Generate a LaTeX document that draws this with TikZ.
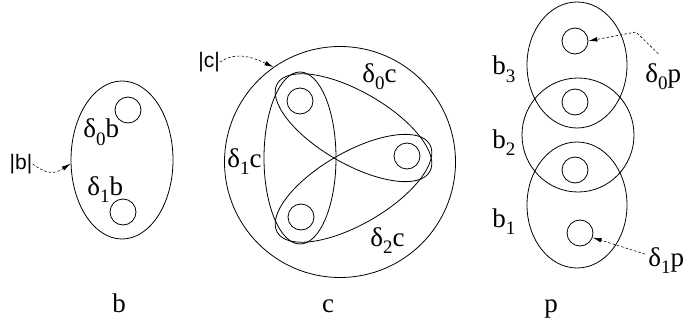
\documentclass[tikz,border=0pt]{standalone}
\usepackage{fontspec}
\setmainfont{Liberation Serif}
\newfontfamily\labsans{Liberation Sans}
\usetikzlibrary{shapes.geometric,arrows.meta}
\newcommand{\sbs}[1]{\raisebox{-7pt}{\fontsize{19}{19}\selectfont #1}}
\begin{document}
\begin{tikzpicture}[x=1pt,y=-1pt,line width=0.8pt,
  hole/.style={draw,circle,minimum size=26pt,inner sep=0pt},
  blob/.style={draw,ellipse,inner sep=0pt},
  lab/.style={font=\rmfamily\fontsize{27}{27}\selectfont,inner sep=0pt,anchor=base west},
  nm/.style={font=\rmfamily\fontsize{27}{27}\selectfont,inner sep=0pt,anchor=base},
  absl/.style={font=\labsans\fontsize{21}{21}\selectfont,inner sep=0pt},
  ptr/.style={line width=0.6pt,dash pattern=on 2.5pt off 2pt,-{Latex[length=9pt,width=4.5pt]}}]
\useasboundingbox (0,0) rectangle (686,321);

% ---------- b ----------
\node[blob,minimum width=102pt,minimum height=158pt] (bE) at (122,160) {};
\node[hole] (bt) at (128,110) {};
\node[hole] (bb) at (123,212) {};
\node[lab] (d0b) at (83,138) {δ\sbs{0}b};
\node[lab] (d1b) at (87,195) {δ\sbs{1}b};
\node[absl] (lb) at (21,164) {|b|};
\draw[ptr] (lb.east) .. controls (44,172) and (52,176) .. (bE.184);
\node[nm] (nb) at (119,312) {b};

% ---------- c ----------
\node[draw,circle,minimum size=231pt,inner sep=0pt] (C) at (340,162) {};
\node[hole] (ct) at (300,101) {};
\node[hole] (cr) at (407,156) {};
\node[hole] (cb) at (301,217) {};
\draw (300,158) ellipse [x radius=36pt, y radius=86pt];
\draw[rotate around={-30:(353.5,127.7)}] (353.5,127.7) ellipse [x radius=88pt, y radius=36pt];
\draw[rotate around={30:(353.5,188.3)}] (353.5,188.3) ellipse [x radius=88pt, y radius=36pt];
\node[lab] (d0c) at (362,82) {δ\sbs{0}c};
\node[lab] (d1c) at (227,167) {δ\sbs{1}c};
\node[lab] (d2c) at (370,246) {δ\sbs{2}c};
\node[absl] (lc) at (209,62) {|c|};
\draw[ptr] (lc.east) .. controls (235,52) and (250,56) .. (C.125);
\node[nm] (nc) at (328,312) {c};

% ---------- p ----------
\node[blob,minimum width=100pt,minimum height=126pt] (p3) at (577,65) {};
\node[blob,minimum width=112pt,minimum height=114pt] (p2) at (578,135) {};
\node[blob,minimum width=100pt,minimum height=126pt] (p1) at (577,205) {};
\node[hole] (pt1) at (575,41) {};
\node[hole] (pt2) at (575,102) {};
\node[hole] (pt3) at (575,170) {};
\node[hole] (pt4) at (580,233) {};
\node[lab] (lb3) at (492,75) {b\sbs{3}};
\node[lab] (lb2) at (492,148) {b\sbs{2}};
\node[lab] (lb1) at (492,227) {b\sbs{1}};
\node[lab] (d0p) at (645,83) {δ\sbs{0}p};
\node[lab] (d1p) at (648,266) {δ\sbs{1}p};
\draw[ptr] ([shift={(-5,-10)}]d0p.north) -- (636,32) -- (pt1.east);
\draw[ptr] ([shift={(-3,-6)}]d1p.west) -- (pt4.-20);
\node[nm] (np) at (551,312) {p};
\end{tikzpicture}
\end{document}
